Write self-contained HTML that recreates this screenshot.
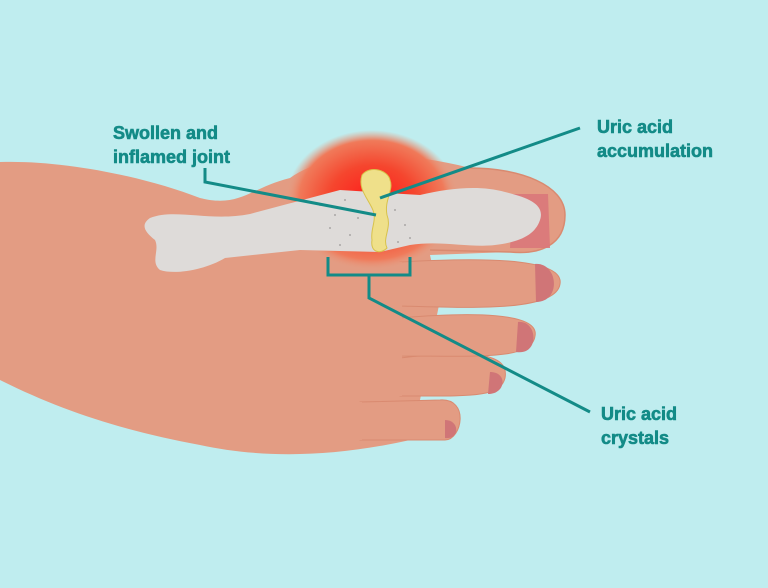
<!DOCTYPE html>
<html><head><style>html,body{margin:0;padding:0;background:#bfedef;}svg{display:block}</style></head>
<body>
<svg width="768" height="588" viewBox="0 0 768 588" xmlns="http://www.w3.org/2000/svg">
<defs>
<radialGradient id="inf" cx="0.5" cy="0.5" r="0.5">
<stop offset="0" stop-color="#ff1a1a"/><stop offset="0.5" stop-color="#f5462e"/><stop offset="0.85" stop-color="#f07a5a"/><stop offset="1" stop-color="#e89a7e" stop-opacity="0"/>
</radialGradient>
</defs>
<rect width="768" height="588" fill="#bfedef"/>
<!-- foot body -->
<path d="M0 162 C60 160 140 175 200 198 C240 208 250 188 290 178 C330 150 400 150 470 168 C520 168 565 185 565 215 C565 245 540 255 510 252 L430 255 L440 300 L430 350 L420 400 L410 440 C330 458 260 458 200 445 C120 430 60 410 0 380 Z" fill="#e39c83"/>
<g fill="#e39c83" stroke="#d98a70" stroke-width="1">
<path d="M360 402 L440 400 C470 398 462 440 445 440 L360 440 Z"/>
<path d="M400 358 C470 350 510 352 505 378 C500 398 470 396 400 396 Z"/>
<path d="M400 318 C470 312 540 312 535 336 C532 360 480 356 400 356 Z"/>
<path d="M400 262 C470 258 565 256 560 284 C556 312 470 308 400 306 Z"/>
</g>
<path d="M360 402 L360 440 M400 262 L400 396" stroke="#e39c83" stroke-width="4"/>
<path d="M470 168 C520 168 565 185 565 215 C565 245 540 255 510 252 L430 250" fill="none" stroke="#d98a70" stroke-width="1.5"/>
<ellipse cx="372" cy="200" rx="86" ry="70" fill="url(#inf)"/>
<!-- nails -->
<path d="M513 194 L548 194 L550 248 L510 248 Z" fill="#d9787a" opacity="0.9"/>
<path d="M535 264 C558 262 562 302 536 302 Z" fill="#d07577"/>
<path d="M518 322 C538 320 540 356 516 352 Z" fill="#d07577"/>
<path d="M490 372 C508 372 506 394 488 394 Z" fill="#d07577"/>
<path d="M445 420 C460 420 460 440 445 438 Z" fill="#d07577"/>
<!-- bone -->
<path d="M150 218 C175 208 210 222 250 214 L340 190 L420 195 C450 188 480 185 505 192 C530 198 545 205 540 220 C535 235 520 242 495 245 C470 248 440 240 410 245 L380 252 L300 250 L225 258 C205 270 175 275 160 270 C150 262 160 250 155 240 C145 232 140 225 150 218 Z" fill="#dedbd9"/>
<g fill="#a9a6a6">
<circle cx="320" cy="205" r="1"/><circle cx="335" cy="215" r="1"/><circle cx="345" cy="200" r="1"/><circle cx="330" cy="228" r="1"/><circle cx="350" cy="235" r="1"/><circle cx="340" cy="245" r="1"/><circle cx="395" cy="210" r="1"/><circle cx="405" cy="225" r="1"/><circle cx="410" cy="238" r="1"/><circle cx="398" cy="242" r="1"/><circle cx="358" cy="218" r="1"/>
</g>
<path d="M362 175 C370 165 388 170 390 180 C394 190 384 200 387 215 C392 228 382 238 387 248 C380 255 370 252 372 240 C370 228 378 220 372 208 C366 196 358 188 362 175 Z" fill="#efe08a" stroke="#d8c24a" stroke-width="1"/>
<!-- lines -->
<g stroke="#138b87" stroke-width="3" fill="none">
<path d="M205 168 L205 182 L376 215"/>
<path d="M580 128 L380 198"/>
<path d="M328 257 L328 275 L410 275 L410 257"/>
<path d="M369 275 L369 298 L590 412"/>
</g>
<g font-family="Liberation Sans, sans-serif" font-weight="bold" font-size="18" fill="#138b87" stroke="#138b87" stroke-width="0.6">
<text x="113" y="139">Swollen and</text>
<text x="113" y="163">inflamed joint</text>
<text x="597" y="133">Uric acid</text>
<text x="597" y="157">accumulation</text>
<text x="601" y="420">Uric acid</text>
<text x="601" y="444">crystals</text>
</g>
</svg>
</body></html>
